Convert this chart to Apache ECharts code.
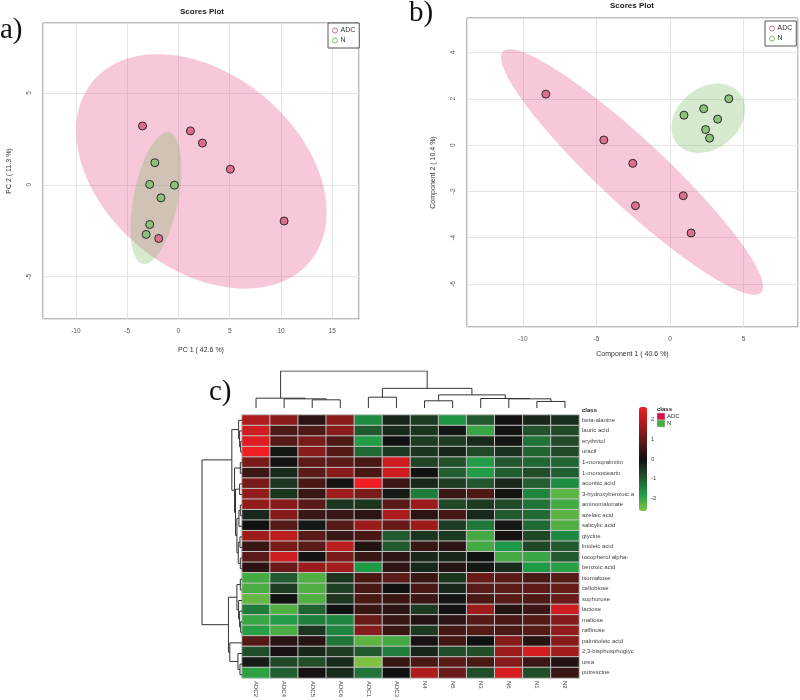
<!DOCTYPE html>
<html><head><meta charset="utf-8">
<script src="https://cdn.jsdelivr.net/npm/echarts@6/dist/echarts.min.js"></script>
<style>html,body{margin:0;padding:0;background:#fff}#c{width:800px;height:700px}</style>
</head><body><div id="c"></div>
<script>
// ---------- DATA ----------
// Panel a: PCA scores
const pcaADC = [[-3.5,3.2],[1.17,2.93],[2.34,2.27],[5.06,0.85],[10.3,-1.97],[-1.92,-2.92]];
const pcaN   = [[-2.3,1.2],[-2.8,0.02],[-0.39,-0.02],[-1.7,-0.71],[-2.8,-2.16],[-3.15,-2.7]];
// Panel b: PLS-DA scores
const plsADC = [[-8.44,2.2],[-4.5,0.22],[-2.53,-0.79],[-2.35,-2.62],[0.9,-2.19],[1.43,-3.8]];
const plsN   = [[0.95,1.29],[2.29,1.57],[4.0,2.0],[3.24,1.12],[2.42,0.67],[2.69,0.3]];
const pcaTitleX = 'PC 1 ( 42.6 %)', pcaTitleY = 'PC 2 ( 11.3 %)';
const plsTitleX = 'Component 1 ( 40.6 %)', plsTitleY = 'Component 2 ( 10.4 %)';
// Panel c: heatmap
const sampleNames = ['ADC2','ADC4','ADC5','ADC6','ADC1','ADC3','N4','N5','N3','N6','N1','N2'];
const sampleClass = ['ADC','ADC','ADC','ADC','ADC','ADC','N','N','N','N','N','N'];
const metabolites = ['beta-alanine','lauric acid','erythritol','uracil','1-monopalmitin','1-monostearin',
  'aconitic acid','3-hydroxybenzoic a','aminomalonate','azelaic acid','salicylic acid','glycine',
  'linoleic acid','tocopherol alpha-','benzoic acid','isomaltose','cellobiose','sophorose','lactose',
  'maltose','raffinose','palmitoleic acid','2,3-bisphosphoglyc','urea','putrescine'];
const zValues = [
  [1.8,1.4,0.3,1.4,-1.6,-0.3,-0.6,-1.7,-1.0,0.05,-0.3,-0.4],
  [2.2,0.7,0.7,1.4,-1.0,-0.35,-0.5,-0.1,-2.0,-0.05,-0.9,-0.8],
  [2.4,0.8,1.2,0.7,-1.8,0.0,-0.6,-0.6,-0.35,-0.05,-1.3,-0.8],
  [2.6,-0.1,1.4,0.8,-1.2,-0.55,-0.5,-0.3,-0.8,-0.45,-1.1,-0.8],
  [1.2,0.05,0.9,0.85,0.65,2.2,-0.7,-0.9,-1.8,-0.95,-1.15,-1.1],
  [0.5,-0.35,0.85,1.4,0.65,2.2,0.0,-1.05,-1.8,-1.05,-0.85,-1.05],
  [1.2,-0.5,0.65,0.05,2.6,0.5,-0.3,-0.6,-0.95,-0.3,-1.05,-1.6],
  [1.5,-0.5,0.45,1.6,1.2,-0.15,-1.4,0.45,0.7,-0.05,-1.5,-2.3],
  [1.5,1.35,0.85,-0.5,-0.5,0.85,1.6,-0.75,-0.55,-0.8,-1.3,-2.1],
  [-0.3,1.35,0.45,0.45,0.3,1.8,0.3,0.6,-0.3,-1.0,-1.2,-2.3],
  [0.0,0.8,-0.1,0.8,1.6,1.0,1.6,-0.6,-1.35,-0.1,-1.2,-2.2],
  [1.6,2.0,0.85,0.45,0.65,-1.0,-0.5,-0.55,-2.1,0.05,-0.75,-1.55],
  [0.45,1.2,0.85,2.0,0.2,-1.0,0.45,0.3,-2.1,-1.75,-0.75,-1.0],
  [0.85,2.2,0.05,1.2,0.45,0.3,-0.3,-0.3,-0.02,-2.1,-2.0,-1.0],
  [0.3,1.0,1.6,1.7,-1.75,0.3,-0.3,0.25,-0.1,-0.35,-1.75,-1.85],
  [-2.1,-1.0,-2.2,-0.5,0.65,0.85,0.45,-0.5,1.0,0.85,0.65,0.8],
  [-2.15,-0.6,-2.2,-0.65,0.65,0.0,0.65,-0.3,0.85,0.85,0.9,1.0],
  [-2.4,0.0,-2.2,-0.5,0.65,0.5,0.5,-0.05,0.65,0.85,0.7,1.0],
  [-1.4,-2.2,-1.1,0.0,0.45,0.3,-0.55,0.0,1.6,0.25,0.5,2.2],
  [-2.0,-1.8,-1.45,-1.5,1.0,0.45,0.2,0.3,0.8,0.65,0.8,1.35],
  [-1.85,-2.15,-0.5,-1.5,1.35,0.45,-0.55,0.6,0.8,0.65,0.8,1.5],
  [0.8,0.3,0.25,-1.3,-2.3,-2.1,0.1,0.6,0.0,1.35,0.25,1.4],
  [-0.85,0.1,-0.3,-0.6,-1.0,-1.4,-0.3,-0.85,-0.85,1.6,2.3,1.7],
  [-0.15,-0.75,-0.85,-0.35,-2.6,0.45,0.65,0.85,0.65,1.35,0.5,0.2],
  [-1.9,-1.05,0.05,-0.35,-1.3,0.0,1.8,1.0,-0.85,2.3,-0.85,0.45]
];
// dendrograms: [height, left, right], leaves = index
const colTree = [113, [30, 0, [28, 1, [25, 2, 3]]],
  [60, [33, 4, 5], [40, [22, 6, 7], [29, 8, [28, 9, [20, 10, 11]]]]]];
const rowTree = [118,
  [30, [10, 0, [7, 1, [4, 2, 3]]],
       [22, [5, 4, 5], [19, [7, 6, 7], [15, [9, [5, 8, 9], 10], [11, [6, 11, 12], [5, 13, 14]]]]]],
  [40, [15, [5, 15, 16], [10, 17, [7, 18, [4, 19, 20]]]],
       [36, 21, [12, 22, [6, 23, 24]]]]];
const zRange = [-2.63, 2.63];

// ---------- HELPERS ----------
const F = 'Liberation Sans, Arial, sans-serif';
const SERIF = 'Liberation Serif, Times New Roman, serif';
function ellipse(pts){ // 95% confidence ellipse (as in R ellipse package)
  const m = pts.length;
  const mx = pts.reduce((s,p)=>s+p[0],0)/m, my = pts.reduce((s,p)=>s+p[1],0)/m;
  let sxx=0, syy=0, sxy=0;
  pts.forEach(p=>{const dx=p[0]-mx, dy=p[1]-my; sxx+=dx*dx; syy+=dy*dy; sxy+=dx*dy;});
  sxx/=(m-1); syy/=(m-1); sxy/=(m-1);
  const t = Math.sqrt(5.991464547), sx=Math.sqrt(sxx), sy=Math.sqrt(syy);
  const d = Math.acos(sxy/(sx*sy)); const out=[];
  for(let i=0;i<120;i++){ const a=i/120*2*Math.PI;
    out.push([mx + t*sx*Math.cos(a + d/2), my + t*sy*Math.cos(a - d/2)]); }
  return out;
}
function ellipseSeries(pts, gi, fill){
  const e = ellipse(pts);
  return {type:'custom', xAxisIndex:gi, yAxisIndex:gi, data:[[0,0]], z:1, silent:true, clip:true,
    renderItem:(p, api)=>({type:'polygon', shape:{points:e.map(q=>api.coord(q))}, style:{fill:fill, stroke:'none'}})};
}
function dendro(tree, horizontal){
  const segs=[];
  (function walk(n){
    if(typeof n==='number') return {pos:n,h:0};
    const L=walk(n[1]), R=walk(n[2]), h=n[0];
    const s=[[L.pos,L.h],[L.pos,h],[R.pos,h],[R.pos,R.h]];
    segs.push({coords: horizontal ? s.map(q=>[q[1],q[0]]) : s});
    return {pos:(L.pos+R.pos)/2, h:h};
  })(tree);
  return segs;
}
function valAxis(gi, min, max, iv, name, gap, isY, extra){
  return Object.assign({gridIndex:gi, type:'value', min, max, minInterval:iv, maxInterval:iv,
    name, nameLocation:'middle', nameGap:gap, nameTextStyle:{fontSize:7, color:'#333', fontFamily:F},
    axisLine:{show:false}, axisTick:{show:false},
    axisLabel:{fontSize:6.5, color:'#555', fontFamily:F, margin:isY?10:9, rotate:isY?90:0, showMinLabel:false, showMaxLabel:false},
    splitLine:{show:true, lineStyle:{color:'#e4e4e4', width:1}}}, extra||{});
}
const colADC='#DC6E8E', colN='#8CC17D';
const fillADC='rgba(229,98,146,0.35)', fillN='rgba(118,185,98,0.3)';
const classColors = {ADC:'#D8154B', N:'#45AD4A'};
function scatter(name, data, gi, color){
  return {type:'scatter', name, xAxisIndex:gi, yAxisIndex:gi, data, z:3, symbolSize:8, silent:true,
    itemStyle:{color, borderColor:'#2a2a2a', borderWidth:1, opacity:1}};
}
function legendCfg(left, top){
  return {left, top, orient:'vertical', borderColor:'#555', borderWidth:1, padding:[4,4,4,4], itemGap:3,
    itemWidth:5, itemHeight:5, backgroundColor:'#fff', selectedMode:false,
    textStyle:{fontSize:7, color:'#333', fontFamily:F, padding:[0,0,0,-2]},
    data:[{name:'ADC', icon:'circle', itemStyle:{color:'#fff', borderColor:'#E06C93', borderWidth:1}},
          {name:'N', icon:'circle', itemStyle:{color:'#fff', borderColor:'#7FBF6F', borderWidth:1}}]};
}

const heatData=[];
zValues.forEach((row,r)=>row.forEach((v,c)=>heatData.push([c,r,v])));

const option = {
  backgroundColor:'#fff', animation:false,
  grid:[
    {left:43, top:23, width:316, height:296, show:true, borderColor:'#777', borderWidth:1},
    {left:467, top:18, width:331, height:309, show:true, borderColor:'#777', borderWidth:1},
    {left:242, top:371, width:337, height:37},
    {left:242, top:408.3, width:337, height:5},
    {left:242, top:415, width:337, height:265},
    {left:202, top:415, width:40, height:265},
    {left:639, top:407, width:8, height:104}
  ],
  xAxis:[
    valAxis(0, -13.2, 17.6, 5, pcaTitleX, 28, false),
    valAxis(1, -13.8, 8.7, 5, plsTitleX, 24, false),
    {gridIndex:2, type:'value', min:-0.5, max:11.5, show:false},
    {gridIndex:3, type:'category', data:sampleNames, show:false},
    {gridIndex:4, type:'category', data:sampleNames, axisLine:{show:false}, axisTick:{show:false},
      axisLabel:{interval:0, rotate:-90, fontSize:6, color:'#444', fontFamily:F, margin:3}},
    {gridIndex:5, type:'value', min:0, max:118, inverse:true, show:false},
    {gridIndex:6, type:'value', min:0, max:1, show:false}
  ],
  yAxis:[
    valAxis(0, -7.3, 8.8, 5, pcaTitleY, 30, true),
    valAxis(1, -7.86, 5.49, 2, plsTitleY, 30, true),
    {gridIndex:2, type:'value', min:0, max:113, show:false},
    {gridIndex:3, type:'category', data:['class'], position:'right', axisLine:{show:false}, axisTick:{show:false},
      axisLabel:{fontSize:6, fontWeight:'bold', color:'#222', fontFamily:F, margin:3}},
    {gridIndex:4, type:'category', data:metabolites, inverse:true, position:'right', axisLine:{show:false}, axisTick:{show:false},
      axisLabel:{interval:0, fontSize:6, color:'#444', fontFamily:F, margin:3}},
    {gridIndex:5, type:'value', min:-0.5, max:24.5, inverse:true, show:false},
    {gridIndex:6, type:'value', min:zRange[0], max:zRange[1], minInterval:1, maxInterval:1, position:'right',
      axisLine:{show:false}, axisTick:{show:false}, splitLine:{show:false},
      axisLabel:{fontSize:6, color:'#444', fontFamily:F, margin:4, showMinLabel:false, showMaxLabel:false}}
  ],
  legend:[legendCfg(328, 23), legendCfg(765, 21)],
  visualMap:{type:'continuous', seriesIndex:10, min:zRange[0], max:zRange[1], calculable:false, show:true,
    left:639, top:407, itemWidth:8, itemHeight:104, padding:0, text:null, hoverLink:false,
    inRange:{color:['#80C341','#1D9A46','#22502A','#111111','#5C1A17','#A81C1C','#F01E23']}},
  series:[
    ellipseSeries(pcaADC, 0, fillADC),
    ellipseSeries(pcaN, 0, fillN),
    scatter('ADC', pcaADC, 0, colADC),
    scatter('N', pcaN, 0, colN),
    ellipseSeries(plsADC, 1, fillADC),
    ellipseSeries(plsN, 1, fillN),
    scatter('ADC', plsADC, 1, colADC),
    scatter('N', plsN, 1, colN),
    {type:'lines', coordinateSystem:'cartesian2d', xAxisIndex:2, yAxisIndex:2, polyline:true, silent:true,
      data:dendro(colTree,false), lineStyle:{color:'#333', width:1, opacity:1}},
    {type:'bar', xAxisIndex:3, yAxisIndex:3, barCategoryGap:'0%', silent:true,
      data:sampleClass.map(c=>({value:1, itemStyle:{color:classColors[c]}})),
      itemStyle:{borderColor:'rgba(255,255,255,0.7)', borderWidth:0.6}},
    {type:'heatmap', xAxisIndex:4, yAxisIndex:4, data:heatData, silent:true,
      itemStyle:{borderColor:'#c4c4c4', borderWidth:1}},
    {type:'lines', coordinateSystem:'cartesian2d', xAxisIndex:5, yAxisIndex:5, polyline:true, silent:true,
      data:dendro(rowTree,true), lineStyle:{color:'#333', width:1, opacity:1}}
  ],
  graphic:[
    {type:'text', x:0, y:30, style:{text:'a)', font:'29px '+SERIF, fill:'#111', textVerticalAlign:'middle'}},
    {type:'text', x:409, y:13, style:{text:'b)', font:'29px '+SERIF, fill:'#111', textVerticalAlign:'middle'}},
    {type:'text', x:209, y:392, style:{text:'c)', font:'29px '+SERIF, fill:'#111', textVerticalAlign:'middle'}},
    {type:'text', x:202, y:12, style:{text:'Scores Plot', font:'bold 8px '+F, fill:'#222', textAlign:'center', textVerticalAlign:'middle'}},
    {type:'text', x:632, y:6, style:{text:'Scores Plot', font:'bold 8px '+F, fill:'#222', textAlign:'center', textVerticalAlign:'middle'}},
    {type:'text', x:657, y:409, style:{text:'class', font:'bold 6px '+F, fill:'#222', textVerticalAlign:'middle'}},
    {type:'rect', shape:{x:657, y:413, width:8, height:7}, style:{fill:classColors.ADC, stroke:'#ccc', lineWidth:0.5}},
    {type:'rect', shape:{x:657, y:420, width:8, height:7}, style:{fill:classColors.N, stroke:'#ccc', lineWidth:0.5}},
    {type:'text', x:667, y:416.5, style:{text:'ADC', font:'6px '+F, fill:'#333', textVerticalAlign:'middle'}},
    {type:'text', x:667, y:423.5, style:{text:'N', font:'6px '+F, fill:'#333', textVerticalAlign:'middle'}}
  ]
};
const chart = echarts.init(document.getElementById('c'), null, {renderer:'canvas'});
chart.setOption(option);
</script></body></html>
